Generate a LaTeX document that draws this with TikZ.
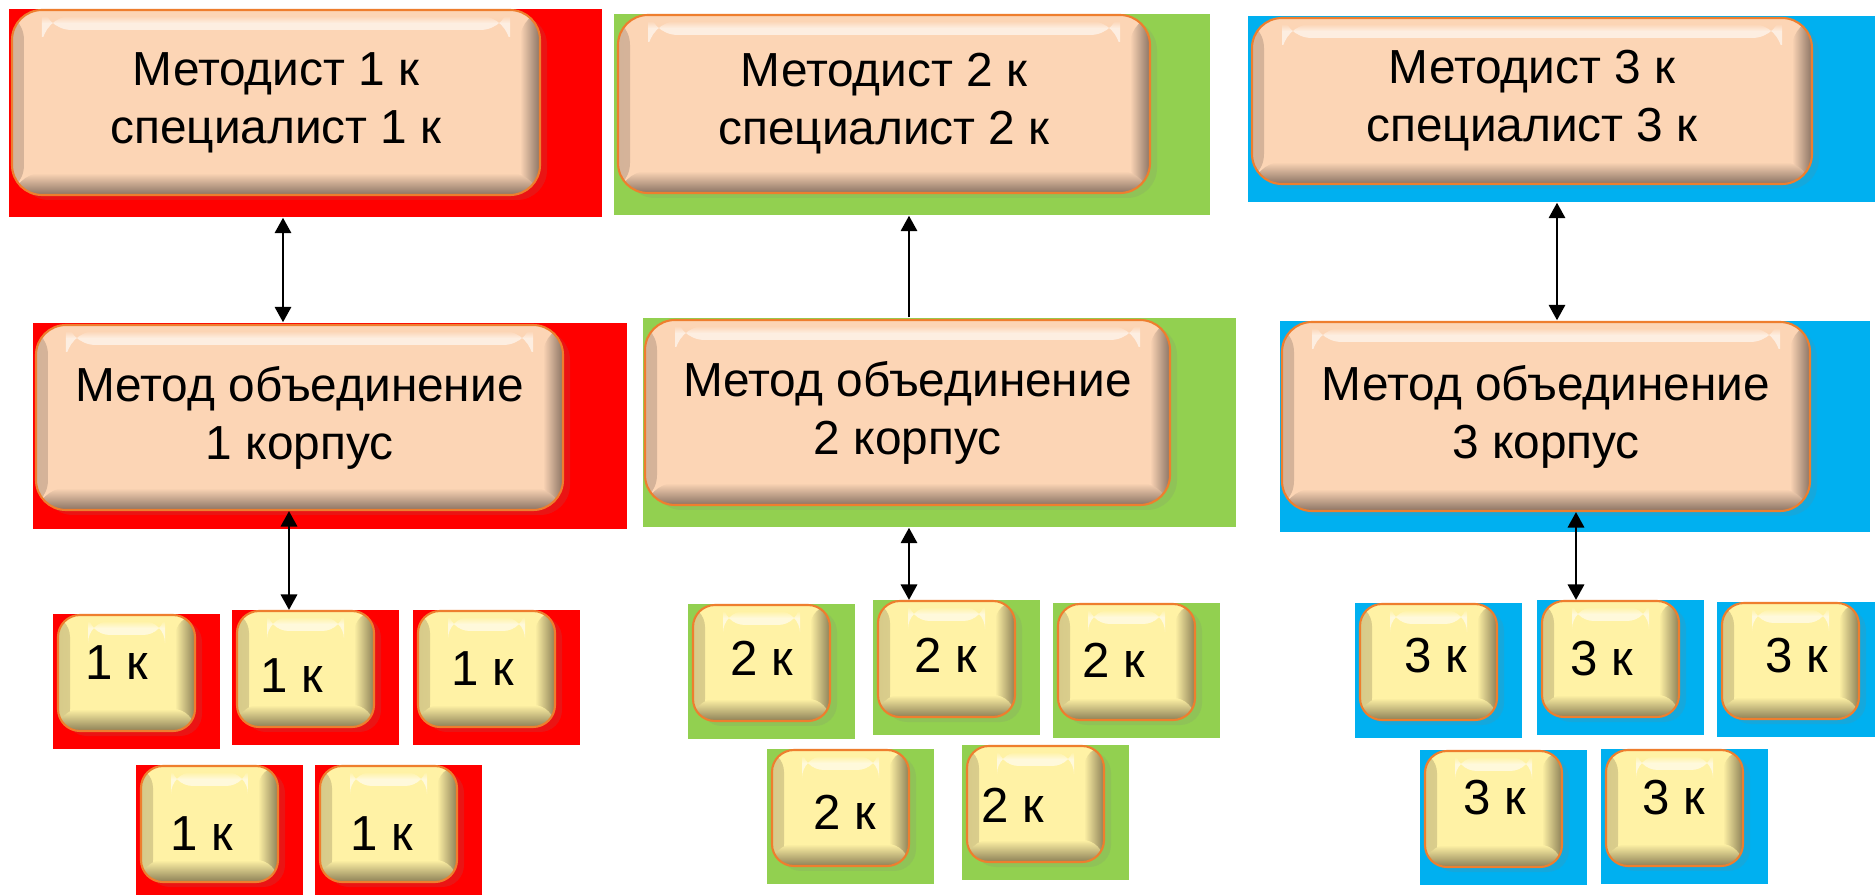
\documentclass[tikz,border=0pt]{standalone}
\usepackage{fontspec}
\setmainfont{Liberation Sans}
\usetikzlibrary{arrows.meta,shadows}

\definecolor{bgred}{HTML}{FF0000}
\definecolor{bggreen}{HTML}{92D050}
\definecolor{bgblue}{HTML}{00B0F0}
\definecolor{peach}{HTML}{FCD5B5}
\definecolor{peachdark}{HTML}{8A7364}
\definecolor{cream}{HTML}{FFF2A5}
\definecolor{creamdark}{HTML}{8C8057}
\definecolor{rim}{HTML}{EE7E2E}

\tikzset{
  panel/.style={fill=#1, inner sep=0pt},
  btn/.style 2 args={draw=rim, line width=0.6pt, fill=#1, inner sep=0pt,
    drop shadow={shadow xshift=0.07cm, shadow yshift=-0.05cm, opacity=0.16},
    path picture={
      \shade[left color=#2!35!#1, right color=#1] (path picture bounding box.south west) rectangle ([xshift=0.12cm]path picture bounding box.north west);
      \shade[left color=#1, right color=#2] ([xshift=-0.2cm]path picture bounding box.south east) rectangle (path picture bounding box.north east);
      \shade[top color=#1, bottom color=#2] (path picture bounding box.south west) rectangle ([yshift=0.22cm]path picture bounding box.south east);
      \shade[top color=#1, bottom color=white, middle color=white, opacity=0.6] ([xshift=0.3cm,yshift=-0.06cm]path picture bounding box.north west) rectangle ([xshift=-0.3cm,yshift=-0.2cm]path picture bounding box.north east);
    }},
  bigbox/.style={btn={peach}{peachdark}, rounded corners=0.3cm, align=center,
    font=\fontsize{13.6}{16.5}\selectfont},
  smallbox/.style={btn={cream}{creamdark}, rounded corners=0.22cm,
    minimum width=1.37cm, minimum height=1.16cm},
  smalltext/.style={font=\fontsize{14}{16}\selectfont, inner sep=0pt, anchor=base},
  link/.style={line width=0.8pt, ->},
  dlink/.style={line width=0.8pt, <->}
}

\begin{document}
\begin{tikzpicture}[>={Triangle[width=4.6pt,length=4.4pt]}]
\fill[white] (0,0) rectangle (18.75,-8.95);
\useasboundingbox (0,0) rectangle (18.75,-8.95);

\node[panel=bgred, minimum width=5.93cm, minimum height=2.08cm] (pt1) at (3.055,-1.13) {};
\node[bigbox, minimum width=5.28cm, minimum height=1.85cm] (top1) at (2.76,-1.025) {Методист 1 к\\специалист 1 к};
\node[panel=bgred, minimum width=5.94cm, minimum height=2.06cm] (pm1) at (3.30,-4.26) {};
\node[bigbox, minimum width=5.27cm, minimum height=1.85cm] (mid1) at (2.995,-4.175) {Метод объединение\\1 корпус};

\node[panel=bggreen, minimum width=5.96cm, minimum height=2.01cm] (pt2) at (9.12,-1.145) {};
\node[bigbox, minimum width=5.32cm, minimum height=1.78cm] (top2) at (8.84,-1.04) {Методист 2 к\\специалист 2 к};
\node[panel=bggreen, minimum width=5.93cm, minimum height=2.09cm] (pm2) at (9.395,-4.225) {};
\node[bigbox, minimum width=5.25cm, minimum height=1.85cm] (mid2) at (9.075,-4.125) {Метод объединение\\2 корпус};

\node[panel=bgblue, minimum width=6.27cm, minimum height=1.86cm] (pt3) at (15.615,-1.09) {};
\node[bigbox, minimum width=5.60cm, minimum height=1.66cm] (top3) at (15.32,-1.01) {Методист 3 к\\специалист 3 к};
\node[panel=bgblue, minimum width=5.90cm, minimum height=2.11cm] (pm3) at (15.75,-4.265) {};
\node[bigbox, minimum width=5.28cm, minimum height=1.89cm] (mid3) at (15.46,-4.165) {Метод объединение\\3 корпус};

\foreach \c/\i/\col/\bx/\by/\tx/\ty in {
  1/1/bgred/1.365/6.815/1.17/6.80, 1/2/bgred/3.155/6.775/2.92/6.92,
  1/3/bgred/4.965/6.775/4.83/6.86, 1/4/bgred/2.195/8.325/2.02/8.51,
  1/5/bgred/3.985/8.325/3.82/8.51,
  2/1/bggreen/7.715/6.715/7.62/6.76, 2/2/bggreen/9.565/6.675/9.46/6.72,
  2/3/bggreen/11.365/6.705/11.14/6.77, 2/4/bggreen/8.505/8.165/8.45/8.29,
  2/5/bggreen/10.455/8.125/10.13/8.22,
  3/1/bgblue/14.385/6.705/14.36/6.73, 3/2/bgblue/16.205/6.675/16.02/6.76,
  3/3/bgblue/18.005/6.695/17.97/6.73, 3/4/bgblue/15.035/8.175/14.95/8.15,
  3/5/bgblue/16.845/8.165/16.74/8.15}{
\node[panel=\col, minimum width=1.67cm, minimum height=1.35cm] (p\c\i) at (\bx,-\by) {};
\node[smallbox] (k\c\i) at ([xshift=-0.1cm,yshift=0.085cm]p\c\i.center) {};
\node[smalltext] (t\c\i) at (\tx,-\ty) {\c{} к};
}

\coordinate (a1) at (2.83,0);
\coordinate (b1) at (2.89,0);
\coordinate (a2) at (9.09,0);
\coordinate (a3) at (15.57,0);
\coordinate (b3) at (15.76,0);
\draw[dlink] (a1 |- pt1.south) -- (a1 |- pm1.north);
\draw[link] (a2 |- pm2.north) -- (a2 |- pt2.south);
\draw[dlink] (a3 |- pt3.south) -- (a3 |- pm3.north);
\draw[dlink] (b1 |- mid1.south) -- (b1 |- k12.north);
\draw[dlink] (a2 |- pm2.south) -- (a2 |- k22.north);
\draw[dlink] (b3 |- mid3.south) -- (b3 |- k32.north);
\end{tikzpicture}
\end{document}
